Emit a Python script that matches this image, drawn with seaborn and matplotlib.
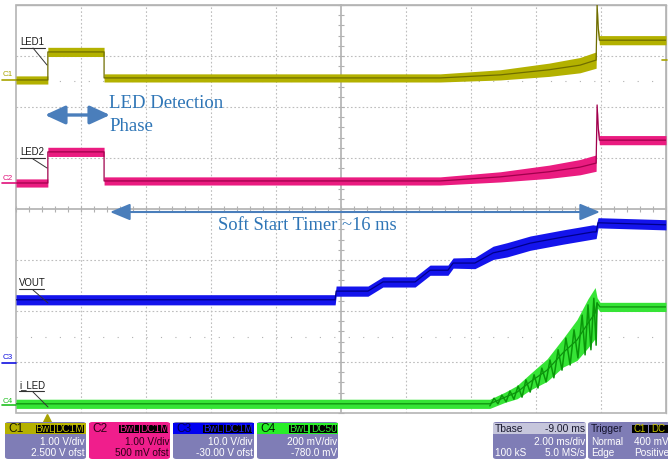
import numpy as np
import pandas as pd
import matplotlib
matplotlib.use("Agg")
import matplotlib.pyplot as plt
import seaborn as sns
from matplotlib.patches import Rectangle, FancyBboxPatch, FancyArrowPatch
from matplotlib.lines import Line2D

# ---------------- data (time in ms, level in screen divisions from bottom) -------------
c1_t = [0, 0.98, 0.98, 2.71, 2.71, 13.05, 14.9, 16.4, 17.35, 17.85, 17.88, 17.92, 17.95, 20]
c1_v = [6.53, 6.53, 7.08, 7.08, 6.57, 6.57, 6.63, 6.73, 6.82, 6.92, 8.0, 7.51, 7.31, 7.31]
c1_n = [0.08, 0.08, 0.09, 0.09, 0.08, 0.08, 0.10, 0.13, 0.15, 0.16, 0.02, 0.05, 0.09, 0.09]

c2_t = [0, 0.98, 0.98, 2.71, 2.71, 13.05, 14.9, 16.4, 17.35, 17.85, 17.88, 17.92, 17.95, 20]
c2_v = [4.51, 4.51, 5.12, 5.12, 4.55, 4.55, 4.63, 4.73, 4.82, 4.90, 6.04, 5.55, 5.35, 5.35]
c2_n = [0.08, 0.08, 0.09, 0.09, 0.08, 0.08, 0.10, 0.13, 0.15, 0.16, 0.02, 0.05, 0.09, 0.09]

c3_t = [0, 9.82, 9.85, 10.83, 11.29, 12.28, 12.74, 13.29, 13.45, 14.12, 14.68, 15.11, 15.82, 16.83, 17.75, 17.85, 17.91, 20]
c3_v = [2.22, 2.22, 2.39, 2.39, 2.57, 2.57, 2.80, 2.80, 2.94, 2.94, 3.14, 3.20, 3.33, 3.45, 3.55, 3.55, 3.73, 3.69]
c3_n = [0.10, 0.10, 0.10, 0.10, 0.10, 0.10, 0.10, 0.10, 0.10, 0.11, 0.13, 0.14, 0.14, 0.14, 0.14, 0.13, 0.10, 0.10]

c4_t = [0, 14.58, 15.05, 15.42, 15.82, 16.34, 16.83, 17.26, 17.6, 17.82, 17.88, 17.97, 20]
c4_v = [0.18, 0.18, 0.31, 0.41, 0.61, 0.84, 1.18, 1.43, 1.76, 1.96, 2.16, 2.08, 2.08]
c4_n = [0.09, 0.09, 0.10, 0.13, 0.16, 0.22, 0.28, 0.40, 0.48, 0.50, 0.10, 0.09, 0.09]

# i_LED ripple during soft start
c4r_t = [14.58, 14.71, 14.83, 14.95, 15.08, 15.20, 15.32, 15.45, 15.57, 15.69, 15.82, 15.94,
         16.06, 16.18, 16.31, 16.43, 16.55, 16.68, 16.80, 16.92, 17.05, 17.17, 17.29, 17.42,
         17.51, 17.60, 17.69, 17.78, 17.85, 17.88]
c4r_v = [0.14, 0.29, 0.18, 0.35, 0.22, 0.43, 0.27, 0.53, 0.31, 0.65, 0.41, 0.75,
         0.49, 0.88, 0.61, 1.04, 0.69, 1.24, 0.84, 1.47, 0.94, 1.63, 1.08, 1.92,
         1.14, 2.12, 1.24, 2.25, 1.33, 2.16]

trace_names = ["LED1", "LED2", "VOUT", "i_LED"]
channel_names = ["C1", "C2", "C3", "C4"]
volts_div = ["1.00 V/div", "1.00 V/div", "10.0 V/div", "200 mV/div"]
offsets = ["2.500 V ofst", "500 mV ofst", "-30.00 V ofst", "-780.0 mV"]
couplings = ["DC1M", "DC1M", "DC1M", "DC50"]

# ---------------- figure ----------------
sns.set_theme(style="white")
plt.rcParams["font.family"] = ["Liberation Sans", "DejaVu Sans"]

W, H = 668, 461
fig = plt.figure(figsize=(W / 100, H / 100), dpi=100)
fig.patch.set_facecolor("white")

def fx(px):
    return px / W

def fy(py):
    return 1 - py / H

ax = fig.add_axes([fx(16), fy(413), 650 / W, 408 / H])
ax.set_xlim(0, 20)
ax.set_ylim(0, 8)
ax.set_facecolor("white")

gridc = "#bdbdbd"
for y in range(1, 8):
    if y != 4:
        ax.axhline(y, color=gridc, lw=0.8, ls=(0, (1.5, 2)), zorder=0)
for x in range(2, 20, 2):
    if x != 10:
        ax.axvline(x, color=gridc, lw=0.8, ls=(0, (1.5, 2)), zorder=0)
for y in (6.5, 1.5):
    ax.axhline(y, color="#b0b0b0", lw=0.8, ls=(0, (1, 12)), zorder=0)

# center lines as spines with ticks
for s in ("top", "right"):
    ax.spines[s].set_color("#b4b4b4")
    ax.spines[s].set_linewidth(1)
ax.spines["left"].set_position(("data", 10))
ax.spines["bottom"].set_position(("data", 4))
ax.spines["left"].set_color("#b4b4b4")
ax.spines["bottom"].set_color("#b4b4b4")
ax.set_xticks(np.arange(0, 20.01, 0.4))
ax.set_yticks(np.arange(0, 8.01, 0.2))
ax.tick_params(axis="both", which="major", direction="inout", length=5, width=0.8,
               color="#b0b0b0", labelbottom=False, labelleft=False, bottom=True, left=True)
ax.add_patch(Rectangle((0, 0), 1, 1, transform=ax.transAxes, fill=False,
                       ec="#b4b4b4", lw=1.2, zorder=1, clip_on=False))

traces = [
    (c1_t, c1_v, c1_n, "#b3b100", "#6f6d00"),
    (c2_t, c2_v, c2_n, "#ea1c80", "#a0004c"),
    (c3_t, c3_v, c3_n, "#1414ec", "#00008a"),
    (c4_t, c4_v, c4_n, "#36e436", "#0e8e0e"),
]
for t, v, n, fc, lc in traces:
    t = np.array(t); v = np.array(v); n = np.array(n)
    ax.fill_between(t, v - n, v + n, color=fc, lw=0, zorder=3)
    sns.lineplot(x=t, y=v, estimator=None, sort=False, color=lc, lw=0.9, ax=ax, zorder=4)
sns.lineplot(x=c4r_t, y=c4r_v, estimator=None, sort=False, color="#0a960a", lw=1.1, ax=ax, zorder=5)
ax.set_xlabel(""); ax.set_ylabel("")

# trigger marker below grid
ax.plot([0.95], [-0.09], marker="^", ms=6, color="#a8a200", clip_on=False, zorder=6)

# ---------------- labels on traces ----------------
lab_pos = [(20, 47, 48, 33, 48, 47, 65), (20, 157, 158, 33, 159, 47, 168),
           (19, 288, 289, 33, 290, 48, 303), (19, 390, 391, 33, 392, 48, 407)]
for name, (x, ty, uy, ax0, ay0, ax1, ay1) in zip(trace_names, lab_pos):
    fig.text(fx(x), fy(ty), name, fontsize=6.9, color="#1a1a1a", va="bottom", ha="left")
    fig.add_artist(Line2D([fx(x), fx(x + 25)], [fy(uy), fy(uy)], color="#333333", lw=0.8))
    fig.add_artist(Line2D([fx(ax0), fx(ax1)], [fy(ay0), fy(ay1)], color="#333333", lw=0.7))

# channel markers at the left
ch_cols = ["#a8a400", "#e0107a", "#1010e0", "#20c020"]
ch_pos = [(75, 80), (178, 183), (357, 363), (401, 405)]
for name, col, (ty, by) in zip(channel_names, ch_cols, ch_pos):
    fig.text(fx(3), fy(ty), name, fontsize=5.8, color=col, va="center", ha="left")
    fig.add_artist(Line2D([fx(2), fx(16)], [fy(by), fy(by)], color=col, lw=1.2))
fig.add_artist(Line2D([fx(662), fx(667)], [fy(60), fy(60)], color="#a8a400", lw=1.2))

# ---------------- annotations ----------------
blue = "#2e75b6"
arrc = "#4a7ebb"
fig.text(fx(109), fy(104), "LED Detection", family="Liberation Serif", fontsize=13.5,
         color=blue, va="center", ha="left")
fig.text(fx(109), fy(126), "Phase", family="Liberation Serif", fontsize=13.5,
         color=blue, va="center", ha="left")
fig.text(fx(218), fy(225), "Soft Start Timer ~16 ms", family="Liberation Serif", fontsize=13.3,
         color=blue, va="center", ha="left")
fig.add_artist(FancyArrowPatch((fx(45), fy(115)), (fx(110), fy(115)), transform=fig.transFigure,
                               arrowstyle="<|-|>,head_length=0.87,head_width=0.4", mutation_scale=14,
                               lw=2.4, color=arrc, shrinkA=0, shrinkB=0))
fig.add_artist(FancyArrowPatch((fx(110), fy(212)), (fx(600), fy(212)), transform=fig.transFigure,
                               arrowstyle="<|-|>,head_length=0.87,head_width=0.36", mutation_scale=14,
                               lw=1.5, color=arrc, shrinkA=0, shrinkB=0))

# ---------------- bottom info boxes ----------------
body = "#7f7db6"

def rbox(x0, y0, x1, y1, color, z=2):
    fig.add_artist(FancyBboxPatch((fx(x0), fy(y1)), fx(x1) - fx(x0), fy(y0) - fy(y1),
                                  boxstyle="round,pad=0,rounding_size=0.005",
                                  transform=fig.transFigure, fc=color, ec="none", zorder=z))

def rect(x0, y0, x1, y1, color, z=3):
    fig.add_artist(Rectangle((fx(x0), fy(y1)), fx(x1) - fx(x0), fy(y0) - fy(y1),
                             transform=fig.transFigure, fc=color, ec="none", zorder=z))

def txt(x, y, s, col, ha="right", size=7.2, z=5):
    t = fig.text(fx(x), fy(y), s, color=col, fontsize=size, ha=ha, va="center", zorder=z)
    return t

boxes = [
    (5, 86, "#b5b100", body, "#1a1a00", "white", (36, 54), (55, 84)),
    (89, 170, "#f01e8c", "#f01e8c", "#300018", "#2a0016", (119, 139), (140, 168)),
    (173, 254, "#0000f0", body, "#000050", "white", (203, 223), (224, 252)),
    (257, 338, "#28ee28", body, "#002000", "white", (289, 308), (310, 337)),
]
badge_txt = ["#c8c400", "#f01e8c", "#2020ff", "#30f030"]
for i, (x0, x1, hc, bc, htc, btc, b1, b2) in enumerate(boxes):
    rbox(x0, 422, x1, 459, bc)
    rect(x0, 423, x1, 434, hc)
    txt(x0 + 3, 428.5, channel_names[i], htc, ha="left", size=8.6)
    rect(b1[0], 424.5, b1[1], 432.5, "black", z=4)
    rect(b2[0], 424.5, b2[1], 432.5, "black", z=4)
    txt((b1[0] + b1[1]) / 2, 428.5, "BwL", badge_txt[i], ha="center", size=7.2)
    txt((b2[0] + b2[1]) / 2, 428.5, couplings[i], badge_txt[i], ha="center", size=7.2)
    txt(x1 - 1, 441.5, volts_div[i], btc)
    txt(x1 - 1, 453, offsets[i], btc)

# Tbase box
rbox(493, 422, 586, 459, body)
rect(493, 423, 586, 433.5, "#c6c6dc")
txt(495, 428.5, "Tbase", "#1a1a30", ha="left", size=7.4)
txt(585, 428.5, "-9.00 ms", "#1a1a30", size=7.4)
txt(585, 441.5, "2.00 ms/div", "white")
txt(495, 453, "100 kS", "white", ha="left")
txt(585, 453, "5.0 MS/s", "white")

# Trigger box
rbox(588, 422, 672, 459, body)
txt(591, 428.5, "Trigger", "#12122a", ha="left", size=7.4)
rect(632, 424.5, 648, 432.5, "black", z=4)
rect(649, 424.5, 668, 432.5, "black", z=4)
txt(640, 428.5, "C1", "#c8c400", ha="center", size=7.0)
txt(658.5, 428.5, "DC", "#c8c400", ha="center", size=7.0)
txt(591, 441.5, "Normal", "white", ha="left")
txt(669, 441.5, "400 mV", "white")
txt(591, 453, "Edge", "white", ha="left")
txt(669, 453, "Positive", "white")

fig.savefig("out.png", dpi=100)
